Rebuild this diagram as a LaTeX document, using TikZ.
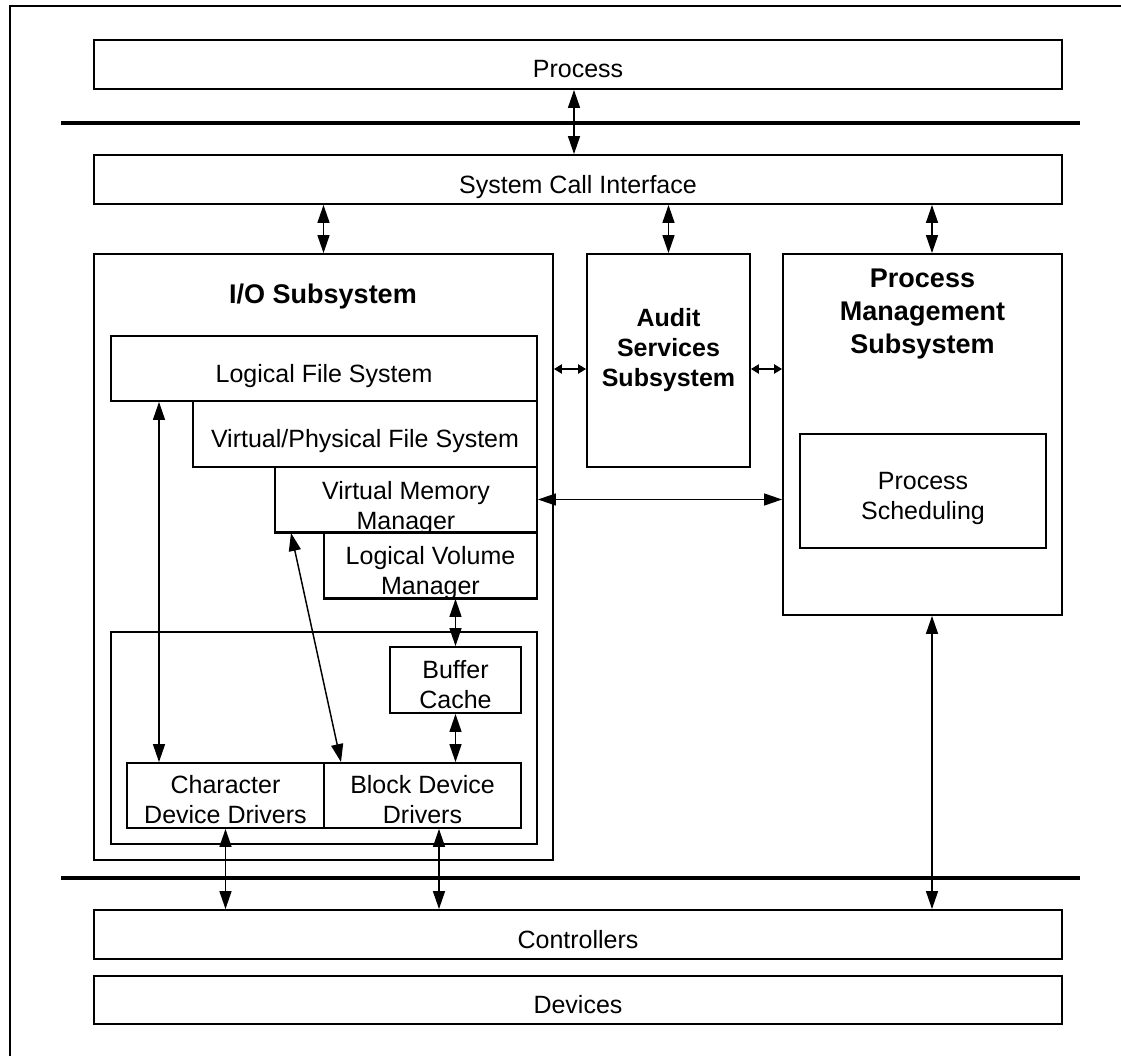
\documentclass[tikz,border=0pt]{standalone}
\usepackage{fontspec}
\setmainfont{Liberation Sans}
\usetikzlibrary{arrows.meta,fit}
\begin{document}
\begin{tikzpicture}[x=0.75pt,y=-0.75pt,
  box/.style={draw,line width=1.4pt,fill=white,inner sep=0pt},
  lbl/.style={anchor=base,align=center,inner sep=0pt,font=\fontsize{18.75}{22.5}\selectfont},
  ttl/.style={anchor=base,align=center,inner sep=0pt,font=\fontsize{20.25}{24.75}\selectfont\bfseries},
  ttls/.style={anchor=base,align=center,inner sep=0pt,font=\fontsize{18.75}{22.5}\selectfont\bfseries},
  dbl/.style={{Triangle[length=13.5pt,width=9pt]}-{Triangle[length=13.5pt,width=9pt]},line width=1.1pt},
  dbls/.style={{Triangle[length=6pt,width=7pt]}-{Triangle[length=6pt,width=7pt]},line width=1.1pt},
  bar/.style={line width=3pt},
  frame/.style={line width=1.7pt}]
\useasboundingbox (0,0) rectangle (1121,1056);
% outer frame (left and top only)
\draw[frame] (10,1060) -- (10,5.7) -- (1125,5.7);
% kernel boundary bars
\draw[bar] (61,123) -- (1080,123);
\draw[bar] (61,878) -- (1080,878);
% boxes
\node[box,fit={(94,40) (1062,89)}] (proc) {};
\node[box,fit={(94,155) (1062,204)}] (sci) {};
\node[box,fit={(94,254) (553,860)}] (io) {};
\node[box,fit={(587,254) (750,467)}] (aud) {};
\node[box,fit={(783,254) (1062,615)}] (pms) {};
\node[box,fit={(800,434) (1046,548)}] (ps) {};
\node[box,fit={(111,336) (537,401)}] (lfs) {};
\node[box,fit={(193,401) (537,467)}] (vpfs) {};
\node[box,fit={(275,467) (537,532)}] (vmm) {};
\node[box,fit={(324,532) (537,598)}] (lvm) {};
\node[box,fit={(111,632) (537,844)}] (drv) {};
\node[box,fit={(390,647) (521,713)}] (bc) {};
\node[box,fit={(127,763) (324,828)}] (cdd) {};
\node[box,fit={(324,763) (521,828)}] (bdd) {};
\node[box,fit={(94,910) (1062,959)}] (ctrl) {};
\node[box,fit={(94,976) (1062,1024)}] (devs) {};
% texts (base = baseline of last line)
\node[lbl] (tproc) at (578,78) {Process};
\node[lbl] (tsci) at (578,193) {System Call Interface};
\node[ttl] (tio) at (323,303) {I/O Subsystem};
\node[ttls] (taud) at (668.5,386) {Audit\\Services\\Subsystem};
\node[ttl] (tpms) at (922.5,353) {Process\\Management\\Subsystem};
\node[lbl] (tps) at (923,519) {Process\\Scheduling};
\node[lbl] (tlfs) at (324,382) {Logical File System};
\node[lbl] (tvpfs) at (365,447) {Virtual/Physical File System};
\begin{scope}
  \clip (vmm.north west) rectangle (vmm.south east);
  \node[lbl] (tvmm) at (406,529) {Virtual Memory\\Manager};
\end{scope}
\begin{scope}
  \clip (lvm.north west) rectangle (lvm.south east);
  \node[lbl] (tlvm) at (430.5,594) {Logical Volume\\Manager};
\end{scope}
\node[lbl] (tbc) at (455.5,708) {Buffer\\Cache};
\node[lbl] (tcdd) at (225.5,823) {Character\\Device Drivers};
\node[lbl] (tbdd) at (422.5,823) {Block Device\\Drivers};
\node[lbl] (tctrl) at (578,948) {Controllers};
\node[lbl] (tdevs) at (578,1013) {Devices};
% redraw borders crossed by clipped text
\draw[line width=1.4pt] (vmm.south west) -- (vmm.south east);
\draw[line width=1.4pt] (lvm.south west) -- (lvm.south east);
% helper coordinates
\coordinate (xP) at (574,0);
\coordinate (xPM) at (932,0);
\coordinate (xLF) at (159,0);
\coordinate (xBD) at (439,0);
\coordinate (xV1) at (291,0);
\coordinate (xV2) at (341,0);
\coordinate (yA) at (0,369);
% connectors
\draw[dbl] (proc.south -| xP) -- (sci.north -| xP);
\draw[dbl] (sci.south -| io.north) -- (io.north);
\draw[dbl] (sci.south -| aud.north) -- (aud.north);
\draw[dbl] (sci.south -| xPM) -- (pms.north -| xPM);
\draw[dbls] (io.east |- yA) -- (aud.west |- yA);
\draw[dbls] (aud.east |- yA) -- (pms.west |- yA);
\draw[dbl] (vmm.east) -- (pms.west |- vmm.east);
\draw[dbl] (lfs.south -| xLF) -- (cdd.north -| xLF);
\draw[dbl] (vmm.south -| xV1) -- (bdd.north -| xV2);
\draw[dbl] (lvm.south -| bc.north) -- (bc.north);
\draw[dbl] (bc.south) -- (bdd.north -| bc.south);
\draw[dbl] (cdd.south) -- (ctrl.north -| cdd.south);
\draw[dbl] (bdd.south -| xBD) -- (ctrl.north -| xBD);
\draw[dbl] (pms.south -| xPM) -- (ctrl.north -| xPM);
\end{tikzpicture}
\end{document}
